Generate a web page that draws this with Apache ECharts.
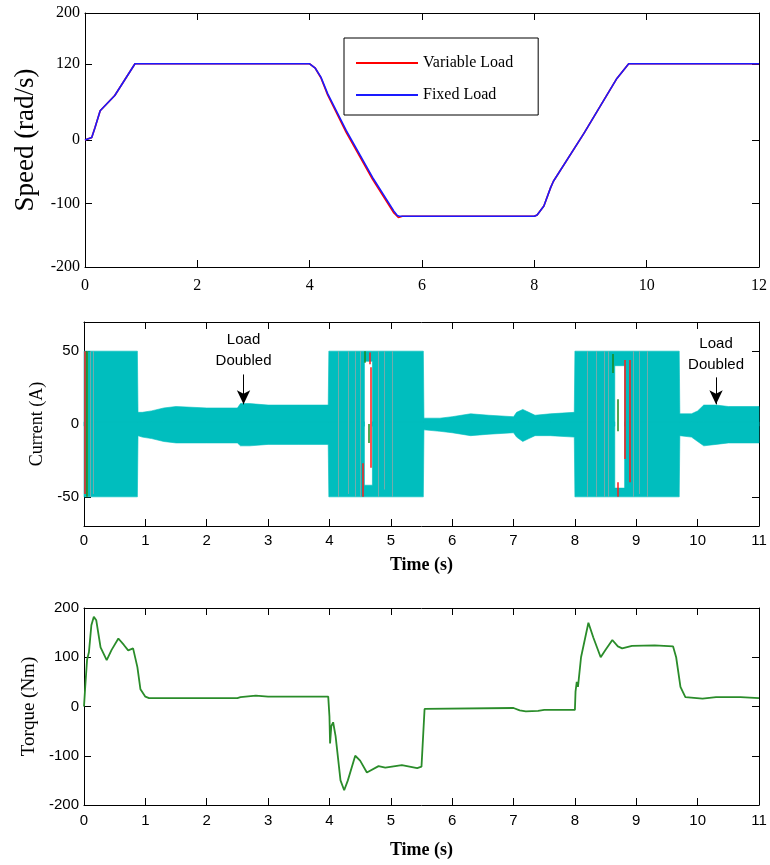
<!DOCTYPE html>
<html>
<head>
    <meta charset="utf-8">
    <title>Speed / Current / Torque</title>
    <script src="https://cdn.jsdelivr.net/npm/echarts@6.0.0/dist/echarts.min.js"></script>
    <style>
        html, body { margin: 0; padding: 0; background: #fff; }
        #chart { width: 770px; height: 865px; }
    </style>
</head>
<body>
<div id="chart"></div>
<script>
    // ---- speed (rad/s) ----
    var spdFixT = [0, 0.12, 0.18, 0.27, 0.53, 0.89, 4.0, 4.1, 4.2, 4.32, 4.65, 5.12, 5.5, 5.56, 5.6, 8.0, 8.05, 8.17, 8.29, 8.34, 8.88, 9.47, 9.68, 12];
    var spdFixV = [0, 4, 20, 46, 70, 120, 120, 113, 99, 73, 15, -59, -112, -119, -120, -120, -118, -104, -75, -65, 10, 97, 120, 120];
    var spdVarT = [0, 0.12, 0.18, 0.27, 0.53, 0.89, 4.0, 4.1, 4.2, 4.32, 4.65, 5.12, 5.5, 5.58, 5.65, 8.0, 8.05, 8.17, 8.29, 8.34, 8.88, 9.47, 9.68, 12];
    var spdVarV = [0, 4, 20, 46, 70, 120, 120, 113, 98, 71, 12, -62, -115, -122, -120, -120, -118, -104, -75, -65, 10, 97, 120, 120];
    var speedTicks = [-200, -100, 0, 120, 200];

    // ---- current (A): envelope of the fast oscillation ----
    var curT   = [0, 0.87, 0.88, 0.95, 1.1, 1.3, 1.5, 2.0, 2.5, 2.55, 2.7, 3.0, 3.5, 3.98, 3.99, 4.57, 4.57, 4.70, 4.70, 5.53, 5.54, 5.8, 6.0, 6.3, 6.6, 7.0, 7.05, 7.15, 7.25, 7.35, 7.6, 7.99, 8.0, 8.65, 8.65, 8.81, 8.81, 9.70, 9.71, 9.9, 10.0, 10.1, 10.3, 10.5, 11];
    var curUp  = [50, 50, 8, 8, 9, 11, 12, 11, 11, 14, 14, 13, 13, 13, 50, 50, 50, 50, 50, 50, 4, 4, 5, 7, 6, 5, 8, 10, 8, 6, 7, 8, 50, 50, 50, 50, 50, 50, 7, 7, 9, 13, 13, 12, 12];
    var curLo  = [-50, -50, -8, -9, -10, -12, -13, -13, -13, -15, -15, -14, -14, -14, -50, -50, -50, -50, -50, -50, -4, -5, -6, -8, -7, -6, -9, -12, -10, -8, -8, -9, -50, -50, -50, -50, -50, -50, -8, -9, -12, -15, -14, -13, -13];
    // white gap inside the saturated blocks (0 = no gap)
    var curGapTop = [0, 0, 0, 0, 0, 0, 0, 0, 0, 0, 0, 0, 0, 0, 0, 0, 43, 43, 0, 0, 0, 0, 0, 0, 0, 0, 0, 0, 0, 0, 0, 0, 0, 0, 40, 40, 0, 0, 0, 0, 0, 0, 0, 0, 0];
    var curGapBot = [0, 0, 0, 0, 0, 0, 0, 0, 0, 0, 0, 0, 0, 0, 0, 0, -42, -42, 0, 0, 0, 0, 0, 0, 0, 0, 0, 0, 0, 0, 0, 0, 0, 0, -44, -44, 0, 0, 0, 0, 0, 0, 0, 0, 0];
    // coloured phase streaks
    var redT  = [0.02, 4.65, 4.68, 4.54, 8.81, 8.70, 8.89];
    var redY0 = [50, 49, 39, -27, 44, -40, 44];
    var redY1 = [-48, 41, -30, -50, -24, -50, -40];
    var grnT  = [0.04, 4.57, 4.64, 8.62, 8.70];
    var grnY0 = [50, 50, 0, 48, 17];
    var grnY1 = [-50, 42, -13, 35, -5];
    var grayT  = [0.06, 0.1, 0.15, 4.15, 4.3, 4.42, 4.5, 4.8, 4.9, 5.02, 8.2, 8.35, 8.48, 8.55, 8.95, 9.05, 9.18];
    var grayY0 = [50, 50, 50, 50, 50, 50, 50, 50, 50, 50, 50, 50, 50, 50, 50, 50, 50];
    var grayY1 = [-50, -50, -48, -50, -48, -50, -50, -50, -45, -50, -50, -50, -50, -50, -50, -48, -50];
    var noteT = [2.6, 10.3];
    var noteTextY = [50.5, 47.5];
    var noteArrowFrom = [34, 32];
    var noteArrowTo = [13.5, 13.5];

    // ---- torque (Nm) ----
    var trqT = [0, 0.02, 0.05, 0.08, 0.12, 0.16, 0.2, 0.27, 0.37, 0.45, 0.56, 0.65, 0.72, 0.8, 0.83, 0.87, 0.92, 1.0, 1.06, 2.5, 2.55, 2.8, 3.0, 3.98, 4.0, 4.01, 4.03, 4.06, 4.1, 4.18, 4.24, 4.3, 4.42, 4.5, 4.61, 4.8, 4.91, 5.18, 5.43, 5.5, 5.55, 7.0, 7.1, 7.2, 7.4, 7.5, 8.0, 8.01, 8.03, 8.05, 8.1, 8.22, 8.3, 8.42, 8.5, 8.61, 8.7, 8.77, 8.93, 9.3, 9.6, 9.65, 9.72, 9.8, 10.08, 10.3, 10.7, 11];
    var trqV = [0, 40, 95, 110, 165, 182, 175, 120, 94, 115, 138, 125, 114, 118, 122, 80, 35, 20, 17, 17, 19, 22, 20, 20, -20, -75, -40, -32, -60, -150, -170, -150, -100, -110, -134, -121, -124, -119, -125, -122, -5, -3, -8, -10, -9, -7, -7, 30, 50, 40, 100, 170, 140, 100, 115, 135, 122, 118, 123, 124, 122, 100, 40, 19, 16, 19, 19, 17];

    var serif = 'Liberation Serif';
    var sans = 'Liberation Sans';
    var cyan = '#00bebe';

    function pairs(t, v) {
        return t.map(function (x, i) { return [x, v[i]]; });
    }
    function segs(t, y0, y1) {
        return t.map(function (x, i) { return { coords: [[x, y0[i]], [x, y1[i]]] }; });
    }

    // the current band: upper half and lower half polygons, notched where there's a gap
    var ov = 1.5;
    function renderBand(params, api) {
        var up = [], lo = [], i;
        for (i = 0; i < curT.length; i++) up.push(api.coord([curT[i], curUp[i]]));
        for (i = curT.length - 1; i >= 0; i--) up.push(api.coord([curT[i], curGapTop[i] === 0 ? -ov : curGapTop[i]]));
        for (i = 0; i < curT.length; i++) lo.push(api.coord([curT[i], curLo[i]]));
        for (i = curT.length - 1; i >= 0; i--) lo.push(api.coord([curT[i], curGapBot[i] === 0 ? ov : curGapBot[i]]));
        var st = { fill: cyan, stroke: cyan, lineWidth: 0.6 };
        return {
            type: 'group',
            children: [
                { type: 'polygon', shape: { points: up }, style: st },
                { type: 'polygon', shape: { points: lo }, style: st }
            ]
        };
    }

    function boxAxes(gi, xo, yo) {
        // bottom/left carry labels, top/right mirror with inner ticks only
        var xs = [], ys = [];
        ['bottom', 'top'].forEach(function (pos, k) {
            var a = Object.assign({}, xo, {
                gridIndex: gi, position: pos, type: 'value',
                axisLine: { show: true, onZero: false, lineStyle: { color: '#000', width: 1 } },
                axisTick: { show: true, inside: true, length: 7, lineStyle: { color: '#000' } },
                splitLine: { show: false }
            });
            if (k === 1) { a.axisLabel = { show: false }; a.name = ''; }
            xs.push(a);
        });
        ['left', 'right'].forEach(function (pos, k) {
            var a = Object.assign({}, yo, {
                gridIndex: gi, position: pos, type: 'value',
                axisLine: { show: true, onZero: false, lineStyle: { color: '#000', width: 1 } },
                splitLine: { show: false }
            });
            a.axisTick = Object.assign({ show: true, inside: true, length: 7, lineStyle: { color: '#000' } }, yo.axisTick || {});
            if (k === 1) { a.axisLabel = { show: false }; a.name = ''; }
            ys.push(a);
        });
        return { xs: xs, ys: ys };
    }

    var p1 = boxAxes(0,
        { min: 0, max: 12, interval: 2,
          axisLabel: { color: '#000', fontFamily: serif, fontSize: 16, margin: 11 } },
        { min: -200, max: 200,
          axisTick: { customValues: speedTicks },
          axisLabel: { customValues: speedTicks, color: '#000', fontFamily: serif, fontSize: 16, margin: 5 },
          name: 'Speed (rad/s)', nameLocation: 'middle', nameGap: 40,
          nameTextStyle: { fontFamily: serif, fontSize: 27, color: '#000' } });
    var p2 = boxAxes(1,
        { min: 0, max: 11, interval: 1,
          axisLabel: { color: '#000', fontFamily: sans, fontSize: 15, margin: 7 },
          name: 'Time (s)', nameLocation: 'middle', nameGap: 30,
          nameTextStyle: { fontFamily: serif, fontWeight: 'bold', fontSize: 18, color: '#000' } },
        { min: -70, max: 70,
          axisTick: { customValues: [-50, 0, 50] },
          axisLabel: { customValues: [-50, 0, 50], color: '#000', fontFamily: sans, fontSize: 15, margin: 5 },
          name: 'Current (A)', nameLocation: 'middle', nameGap: 37,
          nameTextStyle: { fontFamily: serif, fontSize: 18, color: '#000' } });
    var p3 = boxAxes(2,
        { min: 0, max: 11, interval: 1,
          axisLabel: { color: '#000', fontFamily: sans, fontSize: 15, margin: 8 },
          name: 'Time (s)', nameLocation: 'middle', nameGap: 36,
          nameTextStyle: { fontFamily: serif, fontWeight: 'bold', fontSize: 18, color: '#000' } },
        { min: -200, max: 200, interval: 100,
          axisLabel: { color: '#000', fontFamily: sans, fontSize: 15, margin: 5 },
          name: 'Torque (Nm)', nameLocation: 'middle', nameGap: 42,
          nameTextStyle: { fontFamily: serif, fontSize: 19, color: '#000' } });

    var chart = echarts.init(document.getElementById('chart'), null, { renderer: 'canvas' });

    chart.setOption({
        backgroundColor: '#fff',
        animation: false,
        grid: [
            { left: 85, top: 13, width: 676, height: 254 },
            { left: 84, top: 322, width: 675, height: 204 },
            { left: 84, top: 608, width: 675, height: 197 }
        ],
        legend: {
            left: 344, top: 38,
            orient: 'vertical',
            data: ['Variable Load', 'Fixed Load'],
            borderColor: '#000', borderWidth: 1,
            padding: [17, 25, 12, 11],
            itemWidth: 62, itemHeight: 14, itemGap: 16,
            itemStyle: { opacity: 0 },
            textStyle: { fontFamily: serif, fontSize: 16, color: '#000' }
        },
        xAxis: p1.xs.concat(p2.xs, p3.xs),
        yAxis: p1.ys.concat(p2.ys, p3.ys),
        series: [
            // speed
            { name: 'Variable Load', type: 'line', xAxisIndex: 0, yAxisIndex: 0, symbol: 'none',
              lineStyle: { color: '#ff0000', width: 1.6 }, itemStyle: { color: '#ff0000' },
              data: pairs(spdVarT, spdVarV) },
            { name: 'Fixed Load', type: 'line', xAxisIndex: 0, yAxisIndex: 0, symbol: 'none',
              lineStyle: { color: '#1a1aff', width: 1.6 }, itemStyle: { color: '#1a1aff' },
              data: pairs(spdFixT, spdFixV) },

            // current envelope band
            { type: 'custom', xAxisIndex: 2, yAxisIndex: 2, silent: true,
              renderItem: renderBand, data: [[0, 0]] },
            // streaks
            { type: 'lines', coordinateSystem: 'cartesian2d', xAxisIndex: 2, yAxisIndex: 2, silent: true,
              lineStyle: { color: '#8fa8a8', width: 1, opacity: 0.8 }, data: segs(grayT, grayY0, grayY1) },
            { type: 'lines', coordinateSystem: 'cartesian2d', xAxisIndex: 2, yAxisIndex: 2, silent: true,
              lineStyle: { color: '#1a8a1a', width: 1.5, opacity: 1 }, data: segs(grnT, grnY0, grnY1) },
            { type: 'lines', coordinateSystem: 'cartesian2d', xAxisIndex: 2, yAxisIndex: 2, silent: true,
              lineStyle: { color: '#ff1a1a', width: 1.5, opacity: 1 }, data: segs(redT, redY0, redY1) },
            // annotations
            { type: 'line', xAxisIndex: 2, yAxisIndex: 2, symbol: 'none', silent: true, data: [],
              markLine: {
                  silent: true, symbol: ['none', 'arrow'], symbolSize: [10, 14],
                  lineStyle: { color: '#000', type: 'solid', width: 1 },
                  label: { show: false },
                  data: noteT.map(function (t, i) {
                      return [{ coord: [t, noteArrowFrom[i]] }, { coord: [t, noteArrowTo[i]] }];
                  })
              },
              markPoint: {
                  silent: true, symbol: 'circle', symbolSize: 1,
                  itemStyle: { color: 'rgba(0,0,0,0)' },
                  label: { show: true, position: 'inside', formatter: 'Load\nDoubled', color: '#000',
                           fontFamily: sans, fontSize: 15, lineHeight: 21 },
                  data: noteT.map(function (t, i) { return { coord: [t, noteTextY[i]] }; })
              } },

            // torque
            { type: 'line', xAxisIndex: 4, yAxisIndex: 4, symbol: 'none', silent: true,
              lineStyle: { color: '#2a8c2a', width: 1.8 }, data: pairs(trqT, trqV) }
        ]
    });
</script>
</body>
</html>
